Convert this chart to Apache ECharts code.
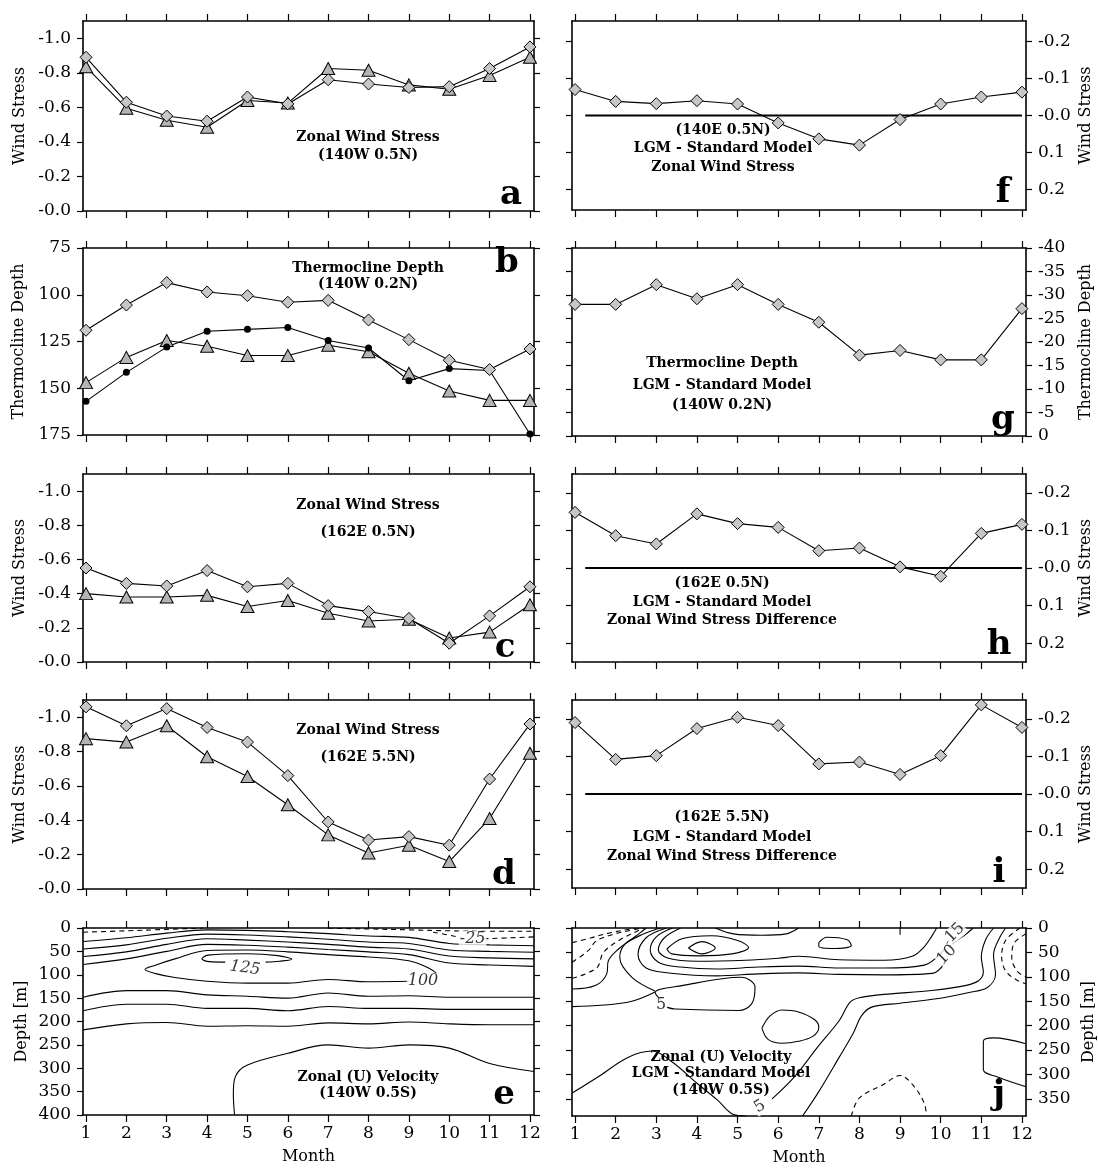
<!DOCTYPE html>
<html><head><meta charset="utf-8">
<script src="https://cdn.jsdelivr.net/npm/echarts@6/dist/echarts.min.js"></script>
<style>html,body{margin:0;padding:0;background:#fff}#c{width:1098px;height:1171px}</style>
</head><body><div id="c"></div>
<script>
// ---------------- DATA ----------------
const months = [1,2,3,4,5,6,7,8,9,10,11,12];
// a: Zonal wind stress 140W 0.5N
const aDiamond  = [-0.89,-0.63,-0.55,-0.52,-0.66,-0.62,-0.76,-0.735,-0.715,-0.72,-0.825,-0.95];
const aTriangle = [-0.835,-0.595,-0.525,-0.485,-0.64,-0.625,-0.825,-0.815,-0.73,-0.705,-0.785,-0.89];
// b: Thermocline depth 140W 0.2N
const bDiamond  = [119,105.5,93.5,98.5,100.5,104,103,113.5,124,135,140,129];
const bTriangle = [147,133.5,124.5,127.5,132.5,132.5,127,130.5,142,151.5,156.5,156.5];
const bDot      = [157,141.5,128,119.5,118.5,117.5,124.5,128.5,146,139.5,140.5,174.5];
// c: Zonal wind stress 162E 0.5N
const cDiamond  = [-0.55,-0.46,-0.445,-0.535,-0.44,-0.46,-0.33,-0.295,-0.255,-0.11,-0.27,-0.44];
const cTriangle = [-0.40,-0.38,-0.38,-0.39,-0.325,-0.36,-0.285,-0.24,-0.25,-0.14,-0.175,-0.335];
// d: Zonal wind stress 162E 5.5N
const dDiamond  = [-1.06,-0.95,-1.05,-0.94,-0.855,-0.66,-0.39,-0.285,-0.305,-0.255,-0.64,-0.96];
const dTriangle = [-0.875,-0.855,-0.95,-0.77,-0.655,-0.49,-0.315,-0.21,-0.255,-0.16,-0.41,-0.79];
// f, g, h, i: LGM - Standard differences
const fDiff = [-0.07,-0.038,-0.032,-0.04,-0.031,0.02,0.063,0.08,0.011,-0.031,-0.05,-0.063];
const gDiff = [-28,-28,-32.2,-29.2,-32.2,-28,-24.2,-17.2,-18.2,-16.2,-16.2,-27.1];
const hDiff = [-0.148,-0.086,-0.064,-0.144,-0.118,-0.108,-0.046,-0.053,-0.003,0.022,-0.092,-0.116];
const iDiff = [-0.19,-0.092,-0.102,-0.174,-0.204,-0.182,-0.08,-0.085,-0.052,-0.102,-0.237,-0.177];
const zeroRef = [[1.25,0],[12,0]];
// tick labels
const windTicks = [-1,-0.8,-0.6,-0.4,-0.2,0];
const diffTicks = [-0.2,-0.1,0,0.1,0.2];
const depthTicksE = [0,50,100,150,200,250,300,350,400];
const depthTicksJ = [0,50,100,150,200,250,300,350];
// e: contour lines (month, depth)
const eSolid = [
  [[0.93,29],[2,21],[3,11],[4,4],[5,5],[6,8],[7,12],[8,17],[9,20],[10,33],[11,36],[12.1,38]],
  [[0.93,45],[2,36],[3,22],[4,13],[5,15],[6,19],[7,24],[8,30],[9,33],[10,47],[11,50],[12.1,52]],
  [[0.93,61],[2,51],[3,35],[4,23],[5,26],[6,30],[7,35],[8,41],[9,45],[10,60],[11,64],[12.1,66]],
  [[0.93,78],[2,66],[3,50],[4,35],[5,37],[6,41],[7,46],[8,51],[9,57],[10,75],[11,79],[12.1,82]],
  [[9.7,98],[9.5,86],[9,70],[8,62],[7,57],[6,51],[5,47],[4,48],[3.2,66],[2.7,80],[2.46,89],[2.7,97],[3.2,106],[4,114],[5,118],[6,118],[7,110],[8,115],[9.0,114]],
  [[4.45,73],[4.05,72],[3.87,66],[4.02,58],[5,55],[5.75,59],[6.1,67],[5.8,71],[5.45,73]],
  [[0.93,148],[2,134],[3,134],[4,143],[5,146],[6,150],[7,139],[8,146],[9,145],[10,148],[11,148],[12.1,148]],
  [[0.93,177],[2,163],[3,163],[4,172],[5,172],[6,177],[7,168],[8,172],[9,172],[10,174],[11,174],[12.1,174]],
  [[0.93,218],[2,205],[3,202],[4,210],[5,209],[6,210],[7,203],[8,205],[9,201],[10,205],[11,207],[12.1,207]],
  [[4.68,400],[4.65,355],[4.7,318],[5,293],[6,268],[7,250],[8,257],[9,250],[10,257],[11,290],[12.1,307]]
];
const eDashed = [
  [[0.93,9],[2,6],[3,3],[3.9,0]],
  [[7,0.5],[8,2],[9,4],[10,6],[11,7],[12.1,7]],
  [[9.6,9],[10.1,17],[10.3,21]],
  [[10.85,23],[11.5,21],[12.1,19]]
];
const eLabels = [{value:[4.94,86],name:'125',rot:-8},{value:[9.35,113],name:'100',rot:0},{value:[10.58,23],name:'-25',rot:0}];
// j: contour lines (month, depth)
const jSolid = [
  [[0.93,125],[1.5,118],[1.78,94],[1.82,67],[2.07,43],[2.39,23],[2.6,10],[2.75,0]],
  [[0.93,161],[2.3,152],[2.97,131]],
  [[2.97,129],[2.4,101],[2.1,60],[2.23,33],[2.64,14],[2.95,4],[3.1,0]],
  [[3.13,150],[2.97,132],[3.63,118],[5.1,101],[5.43,121],[5.35,155],[5.02,169],[3.46,166],[3.25,162]],
  [[5.6,205],[5.8,180],[6.1,168],[6.5,172],[6.9,188],[7.0,203],[6.85,222],[6.5,232],[6.1,236],[5.75,228],[5.6,205]],
  [[0.93,338],[1.6,303],[2.3,265],[2.9,252],[3.4,275],[4.0,318],[4.5,352],[4.9,382],[5.2,385]],
  [[5.85,350],[6.4,305],[6.97,244],[7.5,190],[7.77,152],[8.0,143],[8.6,136],[9.78,128],[10.6,118],[10.93,108],[11.05,90],[11.0,60],[11.1,25],[11.3,0]],
  [[6.6,385],[7.0,335],[7.5,265],[7.85,215],[8.05,180],[8.3,162],[9.0,154],[9.9,145],[10.7,132],[11.15,122],[11.35,95],[11.3,55],[11.45,20],[11.6,0]],
  [[12.1,237],[11.3,225],[11.05,232],[11.05,290],[11.4,305],[12.1,325]],
  [[3.25,0],[2.75,20],[2.55,55],[2.75,82],[3.3,92],[4.5,98],[5.5,94],[6.5,92],[7.5,95],[8.6,96],[9.8,93],[10.1,72]],
  [[10.2,38],[10.6,14],[10.8,0]],
  [[3.4,0],[3.0,18],[2.85,45],[3.05,70],[3.6,80],[4.5,84],[5.5,80],[6.5,78],[7.5,82],[8.6,82],[9.6,76],[10.0,52],[10.2,25]],
  [[3.6,0],[3.2,20],[3.05,45],[3.3,62],[4.0,68],[5.2,66],[6.0,62],[6.5,58],[7.5,65],[8.6,66],[9.3,58],[9.6,38],[9.8,14],[9.9,0]],
  [[3.26,43],[3.63,22],[4.36,16],[5.02,26],[5.27,40],[4.86,53],[4.04,57],[3.38,53],[3.26,43]],
  [[3.79,41],[4.12,28],[4.45,41],[4.12,53],[3.79,41]],
  [[4.45,0],[4.9,12],[5.6,15],[6.2,12],[6.4,5],[6.5,0]],
  [[7.0,30],[7.2,19],[7.7,24],[7.8,36],[7.4,42],[7.0,38],[7.0,30]],
  [[9.0,0],[9.0,14]]
];
const jDashed = [
  [[0.93,30],[1.4,20],[1.8,11],[2.3,3],[2.5,0]],
  [[0.93,70],[1.33,46],[1.53,26],[1.98,12],[2.48,3],[2.6,0]],
  [[0.93,103],[1.53,82],[1.7,50],[2.07,26],[2.56,5],[2.7,0]],
  [[12.1,12],[11.8,32],[11.75,62],[11.9,90],[12.1,100]],
  [[11.95,0],[11.6,25],[11.5,58],[11.6,88],[11.9,108],[12.1,114]],
  [[7.8,385],[8.0,348],[8.6,320],[9.0,302],[9.35,325],[9.6,360],[9.65,385]]
];
const jLabels = [{value:[3.12,158],name:'5',rot:0},{value:[5.55,366],name:'5',rot:30},{value:[10.15,55],name:'10',rot:45},{value:[10.35,10],name:'15',rot:45}];

// ---------------- LAYOUT ----------------
const FF = 'DejaVu Serif';
const LX = 83, LW = 451, RX = 572, RW = 454;
const rowsL = [[21,190],[248,187],[474,188],[700,189],[928,187]];
const rowsR = [[21,189],[248,188],[474,188],[700,188],[928,188]];
const grids = [];
rowsL.forEach(r => grids.push({left:LX, width:LW, top:r[0], height:r[1]}));
rowsR.forEach(r => grids.push({left:RX, width:RW, top:r[0], height:r[1]}));

const AX = {color:'#000', width:1.6};
const TK = {color:'#000', width:1.2};
const LBL = {fontFamily:FF, fontSize:17, color:'#000'};
const NAME = {fontFamily:FF, fontSize:16, color:'#000'};

const xAxis = [], yAxis = [];
function addX(gi, showLabels){
  xAxis.push({type:'value', gridIndex:gi, min:0.925, max:12.1, position:'bottom',
    axisLine:{show:true, onZero:false, lineStyle:AX},
    axisTick:{show:true, customValues:months, length:7, lineStyle:TK},
    axisLabel:{show:showLabels, customValues:months, margin:10, ...LBL},
    splitLine:{show:false},
    name: showLabels ? 'Month' : '', nameLocation:'middle', nameGap:34, nameTextStyle:NAME});
  xAxis.push({type:'value', gridIndex:gi, min:0.925, max:12.1, position:'top',
    axisLine:{show:true, onZero:false, lineStyle:AX},
    axisTick:{show:true, customValues:months, length:7, lineStyle:TK},
    axisLabel:{show:false}, splitLine:{show:false}});
}
function addY(gi, side, o){
  const other = side === 'left' ? 'right' : 'left';
  yAxis.push({type:'value', gridIndex:gi, position:side, inverse:true, min:o.min, max:o.max,
    axisLine:{show:true, onZero:false, lineStyle:AX},
    axisTick:{show:true, customValues:o.ticks, length:6, lineStyle:TK},
    axisLabel:{show:true, customValues:o.ticks, formatter:o.fmt, margin:12, ...LBL},
    splitLine:{show:false},
    name:o.name, nameLocation:'middle', nameRotate:90, nameGap:o.gap, nameTextStyle:NAME});
  yAxis.push({type:'value', gridIndex:gi, position:other, inverse:true, min:o.min, max:o.max,
    axisLine:{show:true, onZero:false, lineStyle:AX},
    axisTick:{show:true, customValues:o.ticks, length:6, lineStyle:TK},
    axisLabel:{show:false}, splitLine:{show:false}});
}
const fmt1 = v => (v <= 0 ? '-' + Math.abs(v).toFixed(1) : v.toFixed(1));
const fmtI = v => String(Math.round(v));

for (let g = 0; g < 10; g++) addX(g, g === 4 || g === 9);
addY(0,'left',{min:-1.1,max:0,ticks:windTicks,fmt:fmt1,name:'Wind Stress',gap:55});
addY(1,'left',{min:75,max:175,ticks:[75,100,125,150,175],fmt:fmtI,name:'Thermocline Depth',gap:56});
addY(2,'left',{min:-1.1,max:0,ticks:windTicks,fmt:fmt1,name:'Wind Stress',gap:55});
addY(3,'left',{min:-1.1,max:0,ticks:windTicks,fmt:fmt1,name:'Wind Stress',gap:55});
addY(4,'left',{min:0,max:400,ticks:depthTicksE,fmt:fmtI,name:'Depth [m]',gap:53});
addY(5,'right',{min:-0.255,max:0.255,ticks:diffTicks,fmt:fmt1,name:'Wind Stress',gap:52});
addY(6,'right',{min:-40,max:0,ticks:[-40,-35,-30,-25,-20,-15,-10,-5,0],fmt:fmtI,name:'Thermocline Depth',gap:52});
addY(7,'right',{min:-0.25,max:0.25,ticks:diffTicks,fmt:fmt1,name:'Wind Stress',gap:52});
addY(8,'right',{min:-0.25,max:0.25,ticks:diffTicks,fmt:fmt1,name:'Wind Stress',gap:52});
addY(9,'right',{min:0,max:385,ticks:depthTicksJ,fmt:fmtI,name:'Depth [m]',gap:55});

// ---------------- SERIES ----------------
const series = [];
const pts = arr => months.map((m,i) => [m, arr[i]]);
function mark(gi, arr, kind){
  const s = {type:'line', xAxisIndex:2*gi, yAxisIndex:2*gi, data:pts(arr), z:5,
    lineStyle:{color:'#000', width:1.1}, showSymbol:true, animation:false};
  if (kind === 'diamond') Object.assign(s, {symbol:'diamond', symbolSize:12, itemStyle:{color:'#c6c6c6', borderColor:'#000', borderWidth:1}});
  if (kind === 'triangle') Object.assign(s, {symbol:'triangle', symbolSize:[13,12], itemStyle:{color:'#b4b4b4', borderColor:'#000', borderWidth:1}});
  if (kind === 'dot') Object.assign(s, {symbol:'circle', symbolSize:7, itemStyle:{color:'#000', borderColor:'#000', borderWidth:0}});
  series.push(s);
}
function zero(gi){
  series.push({type:'line', xAxisIndex:2*gi, yAxisIndex:2*gi, data:zeroRef, symbol:'none', z:3,
    lineStyle:{color:'#000', width:1.8}, animation:false});
}
function contour(gi, lines, dashed){
  lines.forEach(l => series.push({type:'line', xAxisIndex:2*gi, yAxisIndex:2*gi, data:l, symbol:'none',
    smooth:0.35, clip:true, z:2, lineStyle:{color:'#000', width:1.1, type: dashed ? [5,4] : 'solid'}, animation:false}));
}
function clabels(gi, items, italic){
  series.push({type:'scatter', xAxisIndex:2*gi, yAxisIndex:2*gi, symbolSize:1, z:4,
    itemStyle:{color:'rgba(0,0,0,0)'}, animation:false,
    data: items.map(d => ({value:d.value, name:d.name, label:{rotate:d.rot}})),
    label:{show:true, position:'inside', formatter:'{b}', fontFamily:FF, fontSize:16,
      fontStyle: italic ? 'italic' : 'normal', color:'#000', backgroundColor:'#fff', padding:[0,1]}});
}
mark(0,aTriangle,'triangle'); mark(0,aDiamond,'diamond');
mark(1,bTriangle,'triangle'); mark(1,bDot,'dot'); mark(1,bDiamond,'diamond');
mark(2,cTriangle,'triangle'); mark(2,cDiamond,'diamond');
mark(3,dTriangle,'triangle'); mark(3,dDiamond,'diamond');
contour(4,eSolid,false); contour(4,eDashed,true); clabels(4,eLabels,true);
zero(5); mark(5,fDiff,'diamond');
mark(6,gDiff,'diamond');
zero(7); mark(7,hDiff,'diamond');
zero(8); mark(8,iDiff,'diamond');
contour(9,jSolid,false); contour(9,jDashed,true); clabels(9,jLabels,false);

// ---------------- TEXT ----------------
const ANN = 'bold 14px "DejaVu Serif"';
const LET = 'bold 34px "DejaVu Serif"';
const notes = [
  [368,137,'Zonal Wind Stress'],[368,155,'(140W 0.5N)'],
  [368,268,'Thermocline Depth'],[368,284,'(140W 0.2N)'],
  [368,505,'Zonal Wind Stress'],[368,532,'(162E 0.5N)'],
  [368,730,'Zonal Wind Stress'],[368,757,'(162E 5.5N)'],
  [368,1077,'Zonal (U) Velocity'],[368,1093,'(140W 0.5S)'],
  [723,130,'(140E 0.5N)'],[723,148,'LGM - Standard Model'],[723,167,'Zonal Wind Stress'],
  [722,363,'Thermocline Depth'],[722,385,'LGM - Standard Model'],[722,405,'(140W 0.2N)'],
  [722,583,'(162E 0.5N)'],[722,602,'LGM - Standard Model'],[722,620,'Zonal Wind Stress Difference'],
  [722,817,'(162E 5.5N)'],[722,837,'LGM - Standard Model'],[722,856,'Zonal Wind Stress Difference'],
  [721,1057,'Zonal (U) Velocity'],[721,1073,'LGM - Standard Model'],[721,1090,'(140W 0.5S)']
];
const letters = [
  [511,212,'a'],[507,280,'b'],[505,665,'c'],[504,892,'d'],[504,1112,'e'],
  [1003,210,'f'],[1003,437,'g'],[999,662,'h'],[999,890,'i'],[999,1112,'j']
];
const graphic = [];
notes.forEach(n => graphic.push({type:'text', z:10, style:{x:n[0], y:n[1], text:n[2], font:ANN, fill:'#000',
  textAlign:'center', textVerticalAlign:'middle', align:'center', verticalAlign:'middle'}}));
letters.forEach(n => graphic.push({type:'text', z:10, style:{x:n[0], y:n[1], text:n[2], font:LET, fill:'#000',
  textAlign:'center', textVerticalAlign:'bottom', align:'center', verticalAlign:'bottom'}}));

const chart = echarts.init(document.getElementById('c'));
chart.setOption({animation:false, backgroundColor:'#fff', grid:grids, xAxis, yAxis, series, graphic});
</script></body></html>
